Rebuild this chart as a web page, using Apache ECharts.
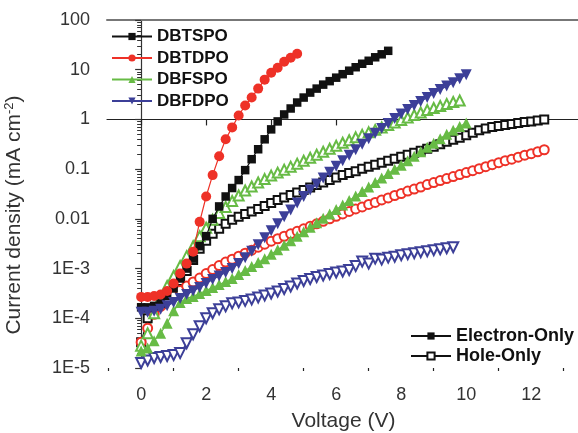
<!DOCTYPE html>
<html>
<head>
<meta charset="utf-8">
<script src="https://cdn.jsdelivr.net/npm/echarts@6/dist/echarts.min.js"></script>
<style>
  html, body { margin: 0; padding: 0; background: #fff; }
  #chart { width: 578px; height: 433px; }
</style>
</head>
<body>
<div id="chart"></div>
<script>
const FONT = '"Liberation Sans", Arial, sans-serif';

// bias voltage (V), same grid for every curve
const voltage = [0, 0.2, 0.4, 0.6, 0.8, 1.0, 1.2, 1.4, 1.6, 1.8,
  2.0, 2.2, 2.4, 2.6, 2.8, 3.0, 3.2, 3.4, 3.6, 3.8,
  4.0, 4.2, 4.4, 4.6, 4.8, 5.0, 5.2, 5.4, 5.6, 5.8,
  6.0, 6.2, 6.4, 6.6, 6.8, 7.0, 7.2, 7.4, 7.6, 7.8,
  8.0, 8.2, 8.4, 8.6, 8.8, 9.0, 9.2, 9.4, 9.6, 9.8,
  10.0, 10.2, 10.4, 10.6, 10.8, 11.0, 11.2, 11.4, 11.6, 11.8,
  12.0, 12.2, 12.4];

// log10 of current density (mA cm^-2)
// electron-only devices (filled symbols)
const dbtspoElecLog = [-3.78, -3.78, -3.75, -3.7, -3.55, -3.4, -3.2, -3.0, -2.8, -2.55,
  -2.35, -2.0, -1.75, -1.55, -1.38, -1.22, -1.02, -0.8, -0.6, -0.4,
  -0.2, -0.04, 0.1, 0.22, 0.34, 0.44, 0.54, 0.62, 0.7, 0.77,
  0.84, 0.91, 0.98, 1.05, 1.12, 1.18, 1.25, 1.31, 1.38];
const dbtdpoElecLog = [-3.57, -3.57, -3.55, -3.52, -3.45, -3.3, -3.1, -2.9, -2.66, -2.06,
  -1.55, -1.12, -0.74, -0.4, -0.16, 0.08, 0.28, 0.44, 0.62, 0.8,
  0.94, 1.04, 1.16, 1.24, 1.32];
const dbfspoElecLog = [-4.66, -4.6, -4.45, -4.3, -4.1, -3.85, -3.68, -3.6, -3.56, -3.5,
  -3.44, -3.38, -3.32, -3.26, -3.2, -3.12, -3.04, -2.96, -2.88, -2.8,
  -2.71, -2.62, -2.53, -2.44, -2.35, -2.26, -2.17, -2.08, -1.99, -1.9,
  -1.81, -1.72, -1.63, -1.54, -1.45, -1.36, -1.27, -1.18, -1.09, -1.0,
  -0.92, -0.83, -0.74, -0.65, -0.56, -0.48, -0.39, -0.3, -0.22, -0.14,
  -0.07];
const dbfdpoElecLog = [-3.88, -3.88, -3.86, -3.82, -3.75, -3.68, -3.6, -3.52, -3.45, -3.38,
  -3.3, -3.22, -3.15, -3.08, -3.0, -2.9, -2.78, -2.65, -2.52, -2.38,
  -2.24, -2.1, -1.96, -1.82, -1.68, -1.55, -1.42, -1.3, -1.18, -1.06,
  -0.94, -0.83, -0.72, -0.61, -0.5, -0.39, -0.28, -0.18, -0.08, 0.02,
  0.11, 0.2, 0.28, 0.36, 0.44, 0.52, 0.6, 0.67, 0.74, 0.82,
  0.9];
// hole-only devices (open symbols)
const dbtspoHoleLog = [-4.48, -4.0, -3.82, -3.72, -3.6, -3.45, -3.25, -3.05, -2.83, -2.6,
  -2.44, -2.3, -2.2, -2.1, -2.02, -1.96, -1.9, -1.85, -1.8, -1.74,
  -1.68, -1.62, -1.57, -1.52, -1.47, -1.42, -1.37, -1.32, -1.27, -1.22,
  -1.17, -1.12, -1.08, -1.04, -0.99, -0.95, -0.91, -0.87, -0.83, -0.79,
  -0.75, -0.71, -0.67, -0.63, -0.59, -0.55, -0.5, -0.45, -0.41, -0.37,
  -0.32, -0.27, -0.22, -0.18, -0.15, -0.13, -0.11, -0.09, -0.07, -0.05,
  -0.04, -0.02, 0.0];
const dbtdpoHoleLog = [-4.48, -4.2, -3.92, -3.76, -3.63, -3.54, -3.44, -3.35, -3.27, -3.19,
  -3.1, -3.02, -2.94, -2.87, -2.81, -2.75, -2.69, -2.63, -2.57, -2.51,
  -2.45, -2.4, -2.35, -2.3, -2.25, -2.2, -2.15, -2.1, -2.05, -2.0,
  -1.95, -1.9, -1.85, -1.8, -1.76, -1.71, -1.67, -1.62, -1.58, -1.53,
  -1.49, -1.44, -1.4, -1.36, -1.31, -1.27, -1.23, -1.19, -1.15, -1.11,
  -1.07, -1.03, -0.99, -0.95, -0.91, -0.87, -0.83, -0.8, -0.76, -0.72,
  -0.69, -0.65, -0.61];
const dbfspoHoleLog = [-4.55, -4.3, -3.9, -3.6, -3.35, -3.15, -2.95, -2.75, -2.55, -2.35,
  -2.18, -2.02, -1.88, -1.76, -1.64, -1.53, -1.43, -1.35, -1.27, -1.2,
  -1.13, -1.07, -1.01, -0.95, -0.89, -0.83, -0.77, -0.71, -0.65, -0.59,
  -0.53, -0.47, -0.42, -0.36, -0.31, -0.26, -0.21, -0.16, -0.11, -0.06,
  -0.01, 0.04, 0.09, 0.14, 0.19, 0.23, 0.27, 0.31, 0.35, 0.38];
const dbfdpoHoleLog = [-4.9, -4.85, -4.8, -4.78, -4.76, -4.74, -4.7, -4.5, -4.32, -4.16,
  -4.0, -3.9, -3.82, -3.76, -3.7, -3.68, -3.65, -3.62, -3.58, -3.54,
  -3.5, -3.46, -3.41, -3.36, -3.3, -3.25, -3.21, -3.17, -3.14, -3.11,
  -3.08, -3.06, -3.03, -2.95, -2.86, -2.9, -2.8, -2.82, -2.78, -2.76,
  -2.73, -2.71, -2.69, -2.67, -2.65, -2.63, -2.61, -2.59, -2.57];

const compounds = ['DBTSPO', 'DBTDPO', 'DBFSPO', 'DBFDPO'];
const deviceTypes = ['Electron-Only', 'Hole-Only'];
const xLabels = [0, 2, 4, 6, 8, 10, 12];
const xMinorTicks = [-1, 1, 3, 5, 7, 9, 11, 13];
const yLabels = ['1E-5', '1E-4', '1E-3', '0.01', '0.1', '1', '10', '100'];

const colors = { black: '#111111', red: '#ee3127', green: '#67bb45', blue: '#3c3f98' };

const toPoints = logs => logs.map((v, i) => [voltage[i], Math.pow(10, v)]);

// small log ticks 2..9 inside every decade, placed on a helper axis that runs in log10 units
const yMinorTicks = [];
for (let e = -5; e < 2; e++) {
  for (let m = 2; m <= 9; m++) yMinorTicks.push(e + Math.log10(m));
}

function curve(name, logs, color, symbol, size, rotate, filled) {
  return {
    name: name,
    type: 'line',
    data: toPoints(logs),
    symbol: symbol,
    symbolSize: size,
    symbolRotate: rotate,
    showSymbol: true,
    showAllSymbol: true,
    lineStyle: { color: color, width: 1.2 },
    itemStyle: { color: color, borderColor: color, borderWidth: filled ? 0 : 1.5 },
    emphasis: { disabled: true },
    z: filled ? 3 : 2
  };
}

const series = [
  curve('DBTSPO hole', dbtspoHoleLog, colors.black, 'emptyRect', 8, 0, false),
  curve('DBTDPO hole', dbtdpoHoleLog, colors.red, 'emptyCircle', 9, 0, false),
  curve('DBFSPO hole', dbfspoHoleLog, colors.green, 'emptyTriangle', 10, 0, false),
  curve('DBFDPO hole', dbfdpoHoleLog, colors.blue, 'emptyTriangle', 10, 180, false),
  curve('DBTSPO', dbtspoElecLog, colors.black, 'rect', 8.5, 0, true),
  curve('DBTDPO', dbtdpoElecLog, colors.red, 'circle', 10, 0, true),
  curve('DBFSPO', dbfspoElecLog, colors.green, 'triangle', 11, 0, true),
  curve('DBFDPO', dbfdpoElecLog, colors.blue, 'triangle', 11, 180, true),
  // legend-only entries
  { name: deviceTypes[0], type: 'line', data: [], symbol: 'rect', symbolSize: 8,
    lineStyle: { color: '#111', width: 1.2 }, itemStyle: { color: '#111' } },
  { name: deviceTypes[1], type: 'line', data: [], symbol: 'emptyRect', symbolSize: 8,
    lineStyle: { color: '#111', width: 1.2 }, itemStyle: { color: '#111', borderColor: '#111', borderWidth: 1.5 } }
];

const legendText = { fontSize: 17, fontWeight: 'bold', color: '#111', fontFamily: FONT };

const option = {
  animation: false,
  backgroundColor: '#fff',
  textStyle: { fontFamily: FONT },
  grid: { left: 107, top: 20, width: 473, height: 348, containLabel: false, outerBoundsMode: 'none' },
  legend: [
    {
      data: compounds, orient: 'vertical', left: 111, top: 28, padding: 0,
      itemWidth: 40, itemHeight: 9, itemGap: 4.5, selectedMode: false,
      textStyle: legendText
    },
    {
      data: deviceTypes, orient: 'vertical', left: 410, top: 327, padding: 0,
      itemWidth: 40, itemHeight: 9, itemGap: 2, selectedMode: false,
      textStyle: Object.assign({}, legendText, { fontSize: 18 })
    }
  ],
  xAxis: [
    {
      type: 'value', min: -1.05, max: 13.5, position: 'bottom',
      axisLine: { show: true, lineStyle: { color: '#222', width: 1.2 } },
      axisTick: { show: true, inside: false, length: 6, customValues: xLabels, lineStyle: { color: '#222', width: 1.2 } },
      axisLabel: { customValues: xLabels, fontSize: 18, color: '#333', margin: 18, fontFamily: FONT },
      splitLine: { show: false },
      name: 'Voltage (V)', nameLocation: 'middle', nameGap: 43,
      nameTextStyle: { fontSize: 21, color: '#333', fontFamily: FONT }
    },
    {
      type: 'value', min: -1.05, max: 13.5, position: 'bottom', offset: 0,
      axisLine: { show: false },
      axisTick: { show: true, inside: false, length: 3, customValues: xMinorTicks, lineStyle: { color: '#222', width: 1.2 } },
      axisLabel: { show: false },
      splitLine: { show: false }
    },
    {
      type: 'value', min: -1.05, max: 13.5, position: 'top',
      axisLine: { show: true, lineStyle: { color: '#777', width: 2 } },
      axisTick: { show: false }, axisLabel: { show: false }, splitLine: { show: false }
    }
  ],
  yAxis: [
    {
      type: 'log', logBase: 10, min: 1e-5, max: 100, position: 'left',
      axisLine: { show: true, lineStyle: { color: '#333', width: 1.2 } },
      axisTick: { show: true, inside: false, length: 6, lineStyle: { color: '#333', width: 1.2 } },
      axisLabel: {
        fontSize: 18, color: '#333', margin: 17, fontFamily: FONT,
        formatter: v => yLabels[Math.round(Math.log10(v)) + 5]
      },
      splitLine: { show: false },
      name: 'Current density (mA cm{sup|-2})',
      nameLocation: 'middle', nameGap: 81, nameRotate: 90,
      nameTextStyle: {
        fontSize: 21, color: '#333', fontFamily: FONT, padding: [0, 42, 0, 0],
        rich: { sup: { fontSize: 13, color: '#333', fontFamily: FONT, verticalAlign: 'top', lineHeight: 23 } }
      }
    },
    {
      type: 'value', min: -5, max: 2, position: 'left', offset: 0,
      axisLine: { show: false },
      axisTick: { show: true, inside: false, length: 4, customValues: yMinorTicks, lineStyle: { color: '#333', width: 1 } },
      axisLabel: { show: false },
      splitLine: { show: false }
    }
  ],
  series: series
};

const chart = echarts.init(document.getElementById('chart'), null, { renderer: 'canvas' });
chart.setOption(option);
</script>
</body>
</html>
